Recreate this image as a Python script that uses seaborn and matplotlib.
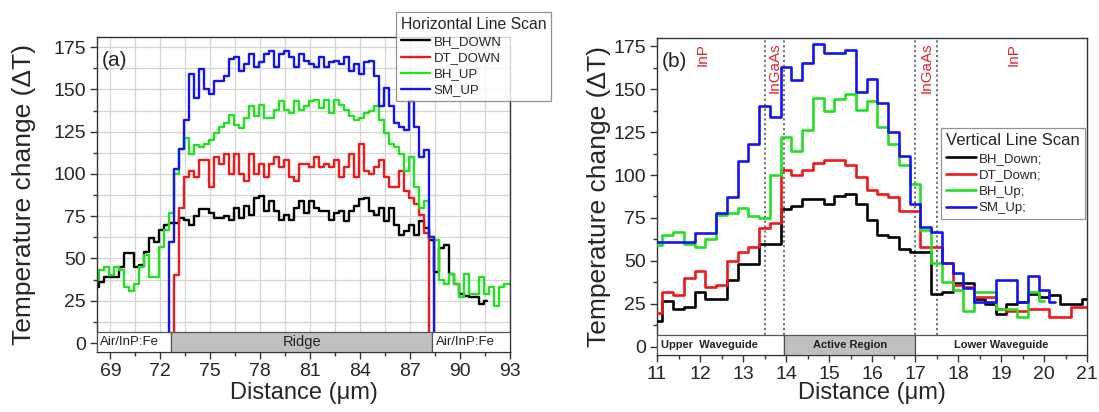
import numpy as np
import pandas as pd
import matplotlib
matplotlib.use("Agg")
import matplotlib.pyplot as plt
import seaborn as sns
from matplotlib.patches import Rectangle
from matplotlib.ticker import MultipleLocator

# ---------------- data: panel (a) horizontal line scan ----------------
a_step = 0.3
a_black_x0 = 68.2
a_black = [33, 36, 39, 39, 39, 45, 53, 53, 45, 46, 54, 62, 60, 67, 70, 71, 71, 74, 73, 70,
           75, 79, 79, 77, 74, 74, 75, 73, 80, 74, 81, 76, 86, 87, 78, 84, 78, 73, 76, 73,
           80, 84, 77, 84, 80, 78, 78, 73, 77, 78, 72, 78, 81, 85, 86, 78, 76, 80, 72, 80,
           70, 64, 66, 70, 64, 72, 68, 61, 42, 56, 58, 41, 35, 29, 28, 27, 27, 23, 25]
a_red_x0 = 72.7
a_red = [0, 40, 80, 98, 102, 98, 108, 108, 92, 110, 106, 112,
         100, 112, 100, 96, 112, 100, 106, 98, 106, 110, 104, 108, 98, 96, 106, 106, 104, 110,
         104, 106, 104, 108, 98, 104, 112, 98, 118, 102,
         100, 104, 108, 98, 92, 92, 102, 90, 86, 82, 76, 65, 0]
a_green_x0 = 68.2
a_green = [37, 43, 45, 40, 45, 43, 33, 31, 35, 45, 52, 39, 39, 57, 67, 77, 100, 115, 121, 112,
           117, 116, 118, 120, 124, 128, 130, 135, 129, 127, 133, 140, 134, 141, 133, 133, 138, 143, 138, 136,
           143, 138, 140, 143, 144, 139, 144, 136, 144, 141, 138, 134, 132, 133, 136, 137, 140, 132, 124, 118,
           116, 112, 102, 110, 92, 80, 84, 63, 61, 37, 35, 41, 35, 27, 41, 29, 29, 39, 29, 33,
           22, 33, 35, 35]
a_blue_x0 = 72.4
a_blue = [0, 60, 103, 115, 132, 159, 145, 162, 150, 147, 155, 155, 158, 168,
          169, 161, 165, 171, 163, 166, 171, 173, 163, 171, 173, 169, 163, 171, 167, 165,
          163, 169, 163, 166, 167, 165, 169, 161, 165, 159, 166,
          167, 158, 140, 151, 140, 130, 128, 126, 143, 128, 110, 114, 63, 0]
a_labels = ["BH_DOWN", "DT_DOWN", "BH_UP", "SM_UP"]
a_xticks = [69, 72, 75, 78, 81, 84, 87, 90, 93]

# ---------------- data: panel (b) vertical line scan ----------------
b_step = 0.25
b_x0 = 11.0
b_black = [15, 27, 22, 23, 32, 28, 28, 39, 48, 48, 60, 60,
           80, 82, 86, 86, 83, 88, 89, 83, 74, 65, 64, 57,
           55, 55, 31, 32, 37, 37, 28, 25, 19, 25, 26, 31,
           29, 30, 25, 25, 28]
b_red = [20, 32, 30, 40, 44, 35, 36, 50, 55, 58, 69, 72,
         103, 100, 103, 107, 109, 109, 106, 99, 91, 89, 87, 79,
         79, 58, 58, 49, 36, 35, 29, 29, 22, 21, 21, 22,
         22, 17.5, 17.5, 23, 23]
b_green = [59, 65, 67, 60, 58, 63, 77, 78, 81, 76, 75, 100,
           122, 114, 126, 145, 137, 144, 147, 138, 143, 128, 118, 106,
           95, 68, 49, 38, 33, 21, 32, 32, 22, 22, 17.5, 32,
           27]
b_blue = [61, 61, 61, 61, 66, 66, 78, 87, 108, 118, 140, 134,
          163, 155, 165, 176, 171, 171, 173, 148, 156, 142, 125, 111,
          83, 70, 67, 49, 43, 34, 26, 26, 39, 39, 26, 41,
          33, 26]
b_labels = ["BH_Down;", "DT_Down;", "BH_Up;", "SM_Up;"]
b_xticks = [11, 12, 13, 14, 15, 16, 17, 18, 19, 20, 21]
yticks = [0, 25, 50, 75, 100, 125, 150, 175]

colors = ["#000000", "#f01818", "#22e022", "#1414f0"]

# ---------------- style ----------------
sns.set_theme(style="ticks")
plt.rcParams['font.family'] = ['Liberation Sans', 'DejaVu Sans']
plt.rcParams['axes.linewidth'] = 1.0

fig = plt.figure(figsize=(10.99, 4.12), dpi=100)
W, H = 1099, 412
ax1 = fig.add_axes([97 / W, 1 - 352 / H, (510 - 97) / W, (352 - 37) / H])
ax2 = fig.add_axes([657 / W, 1 - 355 / H, (1087 - 657) / W, (355 - 38) / H])


def series_x(x0, step, vals):
    return x0 + step * np.arange(len(vals))


# ---------------- panel (a) ----------------
a_series = [(a_black_x0, a_black), (a_red_x0, a_red), (a_green_x0, a_green), (a_blue_x0, a_blue)]
for (x0, vals), lab, col in zip(a_series, a_labels, colors):
    df = pd.DataFrame({"x": series_x(x0, a_step, vals), "y": vals})
    sns.lineplot(data=df, x="x", y="y", ax=ax1, color=col, lw=1.7,
                 drawstyle="steps-mid", label=lab, zorder=2)

ax1.set_xlim(68.2, 93)
ax1.set_ylim(-5.3, 181)
ax1.set_xticks(a_xticks)
ax1.set_yticks(yticks)
ax1.xaxis.set_minor_locator(MultipleLocator(1.5))
ax1.yaxis.set_minor_locator(MultipleLocator(12.5))
ax1.grid(True, which="both", color="#d4d4d4", lw=0.9, zorder=0)
ax1.set_axisbelow(True)

# bottom strip (a)
strip_top_a = 6.5
ax1.add_patch(Rectangle((68.2, -5.3), 72.65 - 68.2, strip_top_a + 5.3, facecolor="white",
                        edgecolor="#555555", lw=0.9, zorder=4))
ax1.add_patch(Rectangle((72.65, -5.3), 88.3 - 72.65, strip_top_a + 5.3, facecolor="#c0c0c0",
                        edgecolor="#555555", lw=0.9, zorder=4))
ax1.add_patch(Rectangle((88.3, -5.3), 93 - 88.3, strip_top_a + 5.3, facecolor="white",
                        edgecolor="#555555", lw=0.9, zorder=4))
ax1.text(68.4, 0.6, "Air/InP:Fe", fontsize=9.5, va="center", ha="left", color="#222222", zorder=5)
ax1.text(80.5, 0.6, "Ridge", fontsize=10.5, va="center", ha="center", color="#222222", zorder=5)
ax1.text(88.55, 0.6, "Air/InP:Fe", fontsize=9.5, va="center", ha="left", color="#222222", zorder=5)
ax1.text(0.012, 0.955, "(a)", transform=ax1.transAxes, fontsize=15, va="top", ha="left")

ax1.set_xlabel("Distance (\u03bcm)", fontsize=17)
ax1.set_ylabel("Temperature change (\u0394T)", fontsize=19)
ax1.yaxis.set_label_coords(-0.148, 0.5)
ax1.xaxis.set_label_coords(0.5, -0.095)

leg1 = ax1.legend(title="Horizontal Line Scan", loc="upper left", bbox_to_anchor=(0.724, 1.079),
                  borderaxespad=0, fontsize=9.5, title_fontsize=11.3, frameon=True, fancybox=False,
                  handlelength=2.2, handletextpad=0.3, labelspacing=0.3, borderpad=0.35)
leg1._legend_box.align = "left"
leg1.get_frame().set_edgecolor("#777777")
leg1.get_frame().set_linewidth(0.9)
leg1.set_zorder(10)
for line in leg1.get_lines():
    line.set_linewidth(1.7)

# ---------------- panel (b) ----------------
b_series = [b_black, b_red, b_green, b_blue]
for vals, lab, col in zip(b_series, b_labels, colors):
    df = pd.DataFrame({"x": series_x(b_x0, b_step, vals), "y": vals})
    sns.lineplot(data=df, x="x", y="y", ax=ax2, color=col, lw=1.9,
                 drawstyle="steps-mid", label=lab, zorder=3)

ax2.set_xlim(11, 21)
ax2.set_ylim(-4.7, 179.7)
ax2.set_xticks(b_xticks)
ax2.set_yticks(yticks)
ax2.xaxis.set_minor_locator(MultipleLocator(0.5))
ax2.yaxis.set_minor_locator(MultipleLocator(12.5))

strip_top_b = 7
ax2.vlines([13.5, 13.95, 17.0, 17.5], strip_top_b, 179.7, colors="#666666", linestyles=(0, (1.2, 1.5)),
           lw=1.3, zorder=2)
ax2.add_patch(Rectangle((11, -4.7), 13.95 - 11, strip_top_b + 4.7, facecolor="white",
                        edgecolor="#555555", lw=0.9, zorder=4))
ax2.add_patch(Rectangle((13.95, -4.7), 17.0 - 13.95, strip_top_b + 4.7, facecolor="#c0c0c0",
                        edgecolor="#555555", lw=0.9, zorder=4))
ax2.add_patch(Rectangle((17.0, -4.7), 21 - 17.0, strip_top_b + 4.7, facecolor="white",
                        edgecolor="#555555", lw=0.9, zorder=4))
ax2.text(11.1, 1.0, "Upper  Waveguide", fontsize=8, fontweight="bold", va="center", ha="left",
         color="#222222", zorder=5)
ax2.text(15.48, 1.0, "Active Region", fontsize=8, fontweight="bold", va="center", ha="center",
         color="#222222", zorder=5)
ax2.text(19.0, 1.0, "Lower Waveguide", fontsize=8, fontweight="bold", va="center", ha="center",
         color="#222222", zorder=5)

red_txt = "#e02530"
ax2.text(12.05, 177, "InP", rotation=90, color=red_txt, fontsize=11, va="top", ha="center")
ax2.text(13.73, 177, "InGaAs", rotation=90, color=red_txt, fontsize=11, va="top", ha="center")
ax2.text(17.27, 177, "InGaAs", rotation=90, color=red_txt, fontsize=11, va="top", ha="center")
ax2.text(19.3, 177, "InP", rotation=90, color=red_txt, fontsize=11, va="top", ha="center")
ax2.text(0.012, 0.955, "(b)", transform=ax2.transAxes, fontsize=15, va="top", ha="left")

ax2.set_xlabel("Distance (\u03bcm)", fontsize=17)
ax2.set_ylabel("Temperature change (\u0394T)", fontsize=19)
ax2.yaxis.set_label_coords(-0.107, 0.5)
ax2.xaxis.set_label_coords(0.5, -0.085)

leg2 = ax2.legend(title="Vertical Line Scan", loc="upper left", bbox_to_anchor=(0.660, 0.716),
                  borderaxespad=0, fontsize=9.5, title_fontsize=12, frameon=True, fancybox=False,
                  handlelength=2.3, handletextpad=0.15, labelspacing=0.32, borderpad=0.4)
leg2._legend_box.align = "left"
leg2.get_frame().set_edgecolor("#777777")
leg2.get_frame().set_linewidth(0.9)
leg2.set_zorder(10)
for line in leg2.get_lines():
    line.set_linewidth(1.9)

for ax in (ax1, ax2):
    ax.tick_params(axis="both", which="major", labelsize=14, direction="out", length=5, width=1,
                   color="#333333", pad=3)
    ax.tick_params(axis="both", which="minor", direction="out", length=3, width=1, color="#333333")
    ax.tick_params(top=False, right=False, which="both")
    for sp in ax.spines.values():
        sp.set_visible(True)
        sp.set_color("#333333")
        sp.set_linewidth(1.0)

fig.savefig("out.png", dpi=100)
